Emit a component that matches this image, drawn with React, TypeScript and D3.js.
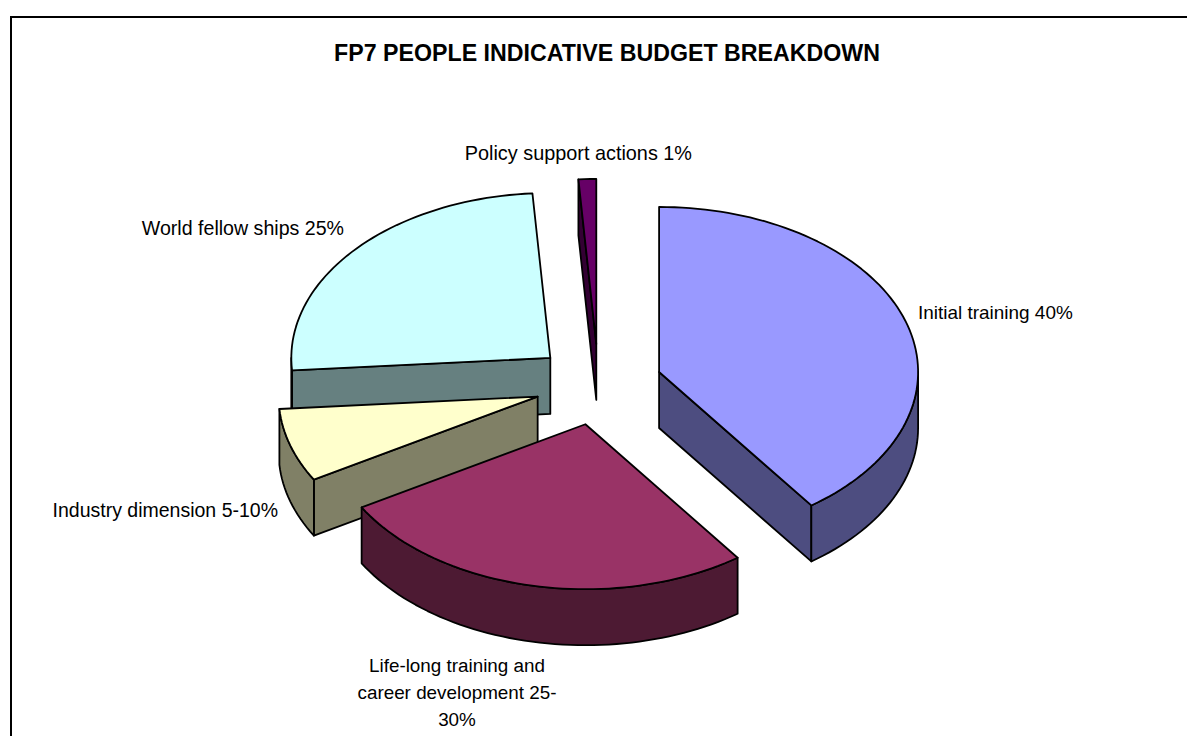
import React from "react";
import * as d3 from "d3";

const titleText = "FP7 PEOPLE INDICATIVE BUDGET BREAKDOWN";
const categories = ["Initial training", "Life-long training", "Industry dimension", "World fellow ships", "Policy support actions"];
const shares = [40, 26.6, 7.2, 25.1, 1.1];
const topColors = ["#9999FF", "#993366", "#FFFFCC", "#CCFFFF", "#660066"];
const sideColors = ["#4D4D80", "#4D1A33", "#808066", "#668080", "#330033"];
const drawOrder = [4, 3, 2, 0, 1];
const labelLines = [
  ["Initial training 40%"],
  ["Life-long training and", "career development 25-", "30%"],
  ["Industry dimension 5-10%"],
  ["World fellow ships 25%"],
  ["Policy support actions 1%"],
];
const labelAnchors = [
  { x: 918, y: 319, a: "start", size: 18.95 },
  { x: 457, y: 672, a: "middle", size: 18.85 },
  { x: 278, y: 517, a: "end", size: 19.5 },
  { x: 344, y: 235, a: "end", size: 19.6 },
  { x: 692, y: 160, a: "end", size: 19.85 },
];

const W = 1187, H = 736;
const cx = 598.5, cy = 384.5, rx = 259, ry = 165, depth = 56, explode = 0.246;

const pieAngles = d3.pie<number>().sort(null).startAngle(0).endAngle(2 * Math.PI)(shares);
const pt = (ox: number, oy: number, a: number, dz = 0): [number, number] => [
  ox + rx * Math.sin(a),
  oy - ry * Math.cos(a) + dz,
];
const arcPts = (ox: number, oy: number, a0: number, a1: number, dz = 0) => {
  const n = Math.max(2, Math.ceil(Math.abs(a1 - a0) / 0.03));
  return d3.range(n + 1).map((i) => pt(ox, oy, a0 + ((a1 - a0) * i) / n, dz));
};
const line = d3.line();
const closed = (p: [number, number][]) => line(p) + "Z";

export default function App() {
  const strokeProps = { stroke: "#000", strokeWidth: 1.8, strokeLinejoin: "round" as const };
  return (
    <svg
      width={W}
      height={H}
      viewBox={`0 0 ${W} ${H}`}
      style={{ position: "absolute", left: 0, top: 0, background: "#fff" }}
      fontFamily="'Liberation Sans', Arial, sans-serif"
    >
      <path d={`M11 ${H}V17H${W}`} fill="none" stroke="#000" strokeWidth={2} />
      <text x={607} y={61} textAnchor="middle" fontSize={23.2} fontWeight="bold" fill="#000">
        {titleText}
      </text>
      {drawOrder.map((i) => {
        const s = pieAngles[i];
        const mid = (s.startAngle + s.endAngle) / 2;
        const ox = cx + explode * rx * Math.sin(mid);
        const oy = cy - explode * ry * Math.cos(mid);
        const apex: [number, number] = [ox, oy];
        const apexB: [number, number] = [ox, oy + depth];
        const walls: string[] = [];
        if (Math.sin(s.startAngle) < -1e-6) {
          const a = pt(ox, oy, s.startAngle);
          walls.push(closed([apex, a, [a[0], a[1] + depth], apexB]));
        }
        if (Math.sin(s.endAngle) > 1e-6) {
          const a = pt(ox, oy, s.endAngle);
          walls.push(closed([apex, a, [a[0], a[1] + depth], apexB]));
        }
        const lo = Math.max(s.startAngle, Math.PI / 2);
        const hi = Math.min(s.endAngle, (3 * Math.PI) / 2);
        if (hi > lo) {
          walls.push(closed([...arcPts(ox, oy, lo, hi), ...arcPts(ox, oy, hi, lo, depth)]));
        }
        const top = closed([apex, ...arcPts(ox, oy, s.startAngle, s.endAngle)]);
        return (
          <g key={categories[i]}>
            {walls.map((d, k) => (
              <path key={k} d={d} fill={sideColors[i]} {...strokeProps} />
            ))}
            <path d={top} fill={topColors[i]} {...strokeProps} />
          </g>
        );
      })}
      {labelLines.map((lines, i) => (
        <text key={categories[i]} fontSize={labelAnchors[i].size} fill="#000" textAnchor={labelAnchors[i].a}>
          {lines.map((l, k) => (
            <tspan key={k} x={labelAnchors[i].x} y={labelAnchors[i].y + k * 27}>
              {l}
            </tspan>
          ))}
        </text>
      ))}
    </svg>
  );
}
